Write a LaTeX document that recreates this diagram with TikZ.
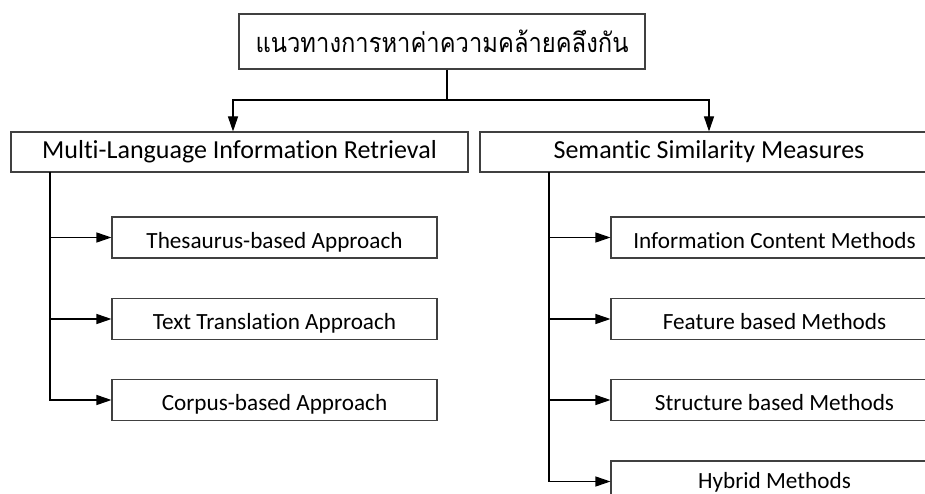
\documentclass[tikz,border=0pt]{standalone}
\usepackage{fontspec}
\setmainfont[RawFeature=-liga]{Carlito}
\newfontfamily\thaifont[Script=Thai, FakeStretch=0.88]{Loma}
\usetikzlibrary{arrows.meta}
\definecolor{edge}{HTML}{404040}
\tikzset{
  box/.style={draw=edge, line width=1.1pt, fill=white, rectangle, inner sep=0pt, align=center},
  headbox/.style={box, minimum height=40pt, font=\fontsize{26}{29}\selectfont},
  itembox/.style={box, minimum width=325pt, minimum height=41pt, font=\fontsize{23.2}{26}\selectfont,
    text height=21pt, text depth=0pt},
  link/.style={draw=black, line width=1.1pt},
  arr/.style={link, -{Triangle[length=15pt, width=10pt]}}
}
\begin{document}
\begin{tikzpicture}[x=1pt, y=-1pt]
\useasboundingbox (0,0) rectangle (925,494);

% root
\node[box, minimum width=406pt, minimum height=55pt, font=\thaifont\fontsize{27}{30}\selectfont]
  (root) at (442,41.5) {แนวทางการหาค่าความคล้ายคลึงกัน};

% two branches
\node[headbox, minimum width=457pt] (mlir) at (239.5,152) {Multi-Language Information Retrieval};
\node[headbox, minimum width=458pt] (ssm) at (709,152) {Semantic Similarity Measures};

\coordinate (split) at (447,100);
\draw[link] ([xshift=5pt]root.south) -- (split);
\draw[arr] (split) -| ([xshift=-6.5pt]mlir.north);
\draw[arr] (split) -| (ssm.north);

% left children
\node[itembox] (thes) at (274.5,237.5) {Thesaurus-based Approach};
\node[itembox] (trans) at (274.5,319) {Text Translation Approach};
\node[itembox] (corp) at (274.5,400) {Corpus-based Approach};

\coordinate (ltrunk) at (50,172);
\draw[arr] (ltrunk) |- (corp.west);
\draw[arr] (ltrunk |- thes.west) -- (thes.west);
\draw[arr] (ltrunk |- trans.west) -- (trans.west);

% right children
\node[itembox, minimum width=327pt] (info) at (774.5,237.5) {Information Content Methods};
\node[itembox, minimum width=327pt] (feat) at (774.5,319) {Feature based Methods};
\node[itembox, minimum width=327pt] (struc) at (774.5,400) {Structure based Methods};
\node[itembox, minimum width=327pt, text height=14pt] (hyb) at (774.5,481.5) {Hybrid Methods};

\coordinate (rtrunk) at (549,172);
\draw[arr] (rtrunk) |- (hyb.west);
\draw[arr] (rtrunk |- info.west) -- (info.west);
\draw[arr] (rtrunk |- feat.west) -- (feat.west);
\draw[arr] (rtrunk |- struc.west) -- (struc.west);
\end{tikzpicture}
\end{document}
